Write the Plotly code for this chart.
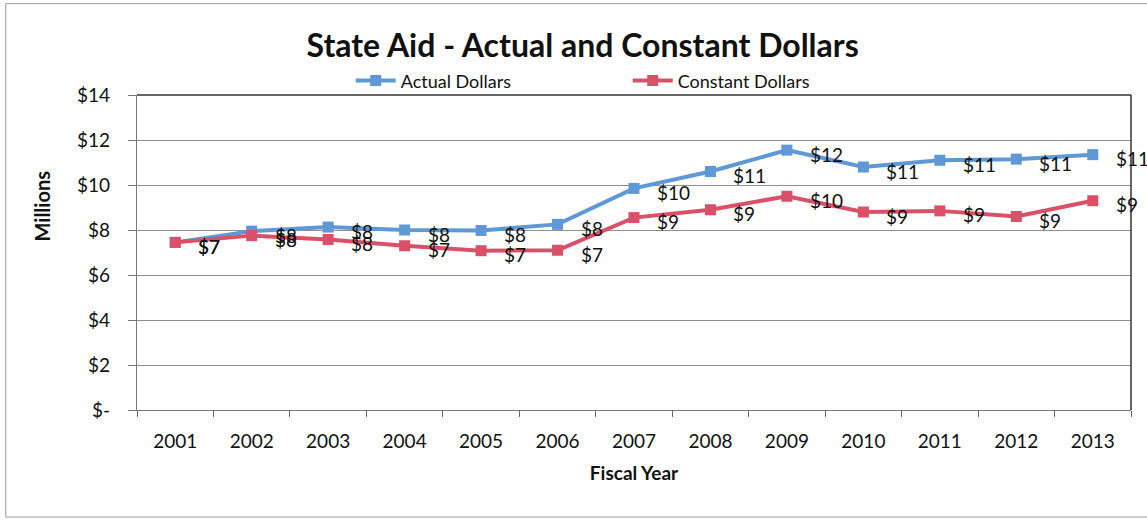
import plotly.graph_objects as go

# Fiscal years and state aid (millions of dollars)
years = ["2001", "2002", "2003", "2004", "2005", "2006", "2007",
         "2008", "2009", "2010", "2011", "2012", "2013"]
actual = [7.45, 7.95, 8.13, 8.0, 7.98, 8.25, 9.85, 10.6, 11.55, 10.8, 11.1, 11.15, 11.35]
constant = [7.45, 7.75, 7.58, 7.3, 7.08, 7.1, 8.55, 8.9, 9.5, 8.8, 8.85, 8.6, 9.3]

y_tickvals = [0, 2, 4, 6, 8, 10, 12, 14]
y_ticktext = ["$-", "$2", "$4", "$6", "$8", "$10", "$12", "$14"]

BLUE = "#5F98D6"
RED = "#DA5068"
FONT = "Lato"

fig = go.Figure()
for name, vals, color in [("Actual Dollars", actual, BLUE),
                          ("Constant Dollars", constant, RED)]:
    fig.add_trace(go.Scatter(
        x=years, y=vals, name=name, mode="lines+markers",
        line=dict(color=color, width=4),
        marker=dict(symbol="square", size=11, color=color),
    ))

# Value labels to the right of each point (category index positions)
annotations = []
for vals in (actual, constant):
    for i, v in enumerate(vals):
        annotations.append(dict(
            x=i, y=v, xref="x", yref="y", text=f"${round(v):d}",
            showarrow=False, xanchor="left", yanchor="middle",
            xshift=21, yshift=-4,
            font=dict(family=FONT, size=19, color="#111111"),
        ))

annotations.append(dict(
    text="<b>Millions</b>", xref="paper", yref="paper", x=-0.096, y=0.648,
    xanchor="center", yanchor="middle",
    showarrow=False, textangle=-90,
    font=dict(family=FONT, size=20, color="#111111"),
))

fig.update_layout(
    width=1147, height=525,
    margin=dict(l=137, r=16, t=95, b=115),
    paper_bgcolor="white", plot_bgcolor="white",
    title=dict(text="<b>State Aid - Actual and Constant Dollars</b>",
               x=0.508, xanchor="center", y=0.913, yanchor="middle",
               font=dict(family=FONT, size=32, color="#111111")),
    font=dict(family=FONT, size=18, color="#111111"),
    showlegend=True,
    legend=dict(orientation="h", x=0.215, xanchor="left", y=1.045, yanchor="middle",
                font=dict(family=FONT, size=18, color="#111111"),
                itemwidth=40, entrywidth=222, entrywidthmode="pixels",
                bgcolor="rgba(0,0,0,0)"),
    annotations=annotations,
    shapes=[
        # chart outer border
        dict(type="rect", xref="paper", yref="paper",
             x0=-0.132, x1=1.06, y0=-0.34, y1=1.29,
             line=dict(color="#9a9a9a", width=1)),
        # plot area top and right edges
        dict(type="line", xref="paper", yref="paper", x0=0, x1=1, y0=1, y1=1,
             line=dict(color="#333333", width=1.5)),
        dict(type="line", xref="paper", yref="paper", x0=1, x1=1, y0=0, y1=1,
             line=dict(color="#333333", width=1.5)),
    ],
)

fig.update_xaxes(
    type="category", categoryorder="array", categoryarray=years,
    range=[-0.5, len(years) - 0.5], tickangle=0,
    tickson="boundaries", ticks="outside", ticklen=6,
    tickcolor="#666666", showline=True, linecolor="#777777", linewidth=1.2,
    showgrid=False, tickfont=dict(family=FONT, size=19), ticklabelstandoff=14,
    title=dict(text="<b>Fiscal Year</b>", font=dict(family=FONT, size=19), standoff=15),
)
fig.update_yaxes(
    range=[0, 14], tickvals=y_tickvals, ticktext=y_ticktext,
    ticks="outside", ticklen=8, tickcolor="#777777",
    showline=True, linecolor="#777777", linewidth=1.2,
    showgrid=True, gridcolor="#8f8f8f", gridwidth=1,
    zeroline=False, tickfont=dict(family=FONT, size=19), ticklabelstandoff=14,
)

fig.write_html("out.html")
